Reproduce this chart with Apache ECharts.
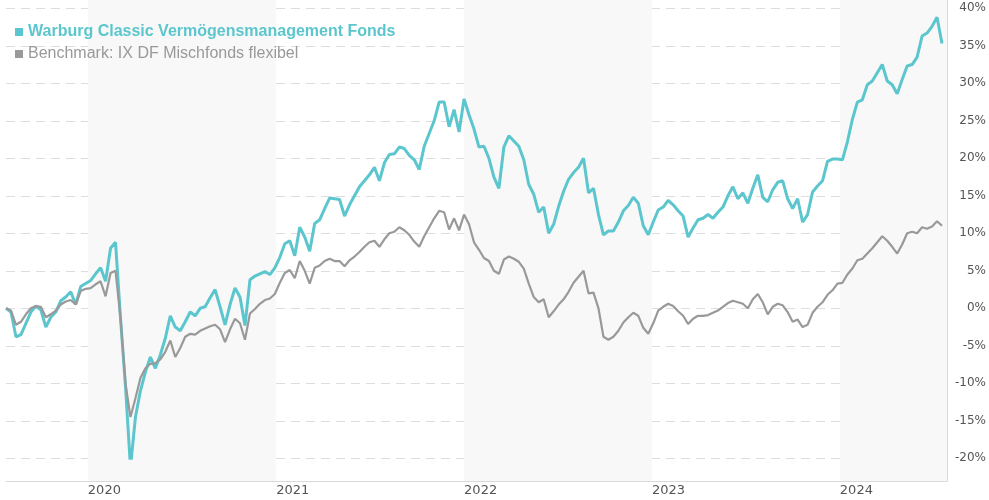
<!DOCTYPE html>
<html>
<head>
<meta charset="utf-8">
<script src="https://cdn.jsdelivr.net/npm/echarts@6/dist/echarts.min.js"></script>
<style>
  html, body { margin: 0; padding: 0; background: #fff; }
  #chart { width: 989px; height: 500px; }
</style>
</head>
<body>
<div id="chart"></div>
<script>
// Wertentwicklung Fonds vs. Benchmark, Werte in %
var seriesNames = ['Warburg Classic Vermögensmanagement Fonds', 'Benchmark: IX DF Mischfonds flexibel'];

var startDate = Date.UTC(2019, 6, 26);
var stepDays = 9.714;

var fondsValues = [
  0.0, -0.5, -3.8, -3.5, -2.0, -0.5, 0.3, -0.2, -2.5, -1.2,
  -0.5, 1.0, 1.5, 2.2, 0.5, 2.9, 3.3, 3.7, 4.6, 5.4,
  3.6, 8.0, 8.8, -1.3, -10.4, -21.2, -14.5, -11.0, -8.5, -6.5,
  -8.0, -6.2, -4.0, -1.0, -2.5, -3.0, -1.8, -0.5, -1.0, 0.0,
  0.2, 1.4, 2.5, 0.2, -2.2, 0.5, 2.7, 1.5, -2.3, 3.8,
  4.3, 4.6, 4.9, 4.5, 5.4, 6.8, 8.6, 9.0, 7.0, 10.8,
  9.5, 7.6, 11.3, 11.8, 13.3, 14.7, 14.6, 14.5, 12.3, 13.8,
  15.0, 16.2, 17.0, 17.8, 18.8, 17.0, 19.4, 20.5, 20.6, 21.5,
  21.3, 20.4, 19.8, 18.5, 21.6, 23.3, 25.0, 27.5, 27.5, 24.2,
  26.5, 23.5, 27.9, 25.8, 23.9, 21.5, 21.6, 20.0, 17.5, 16.0,
  21.5, 23.0, 22.3, 21.6, 19.8, 16.5, 15.2, 12.8, 13.5, 10.0,
  11.2, 13.6, 15.6, 17.2, 18.1, 18.8, 20.0, 15.4, 16.0, 12.5,
  9.8, 10.3, 10.3, 11.5, 13.0, 13.7, 14.8, 14.0, 11.0, 9.8,
  11.5, 13.1, 13.5, 14.4, 13.8, 13.0, 12.3, 9.5, 10.7, 11.8,
  12.0, 12.5, 12.0, 12.8, 13.5, 15.0, 16.2, 14.6, 15.4, 14.0,
  16.0, 17.8, 14.8, 14.2, 15.8, 16.8, 17.0, 14.6, 13.3, 14.6,
  11.5, 12.5, 15.5, 16.3, 17.0, 19.6, 19.9, 19.9, 19.8, 22.2,
  25.2, 27.5, 27.8, 29.8, 30.3, 31.4, 32.5, 30.3, 29.8, 28.6,
  30.5, 32.3, 32.5, 33.5, 36.3, 36.7, 37.6, 38.8, 35.3
];

var benchValues = [
  0.0, -0.3, -2.2, -1.8, -0.8, 0.0, 0.3, 0.2, -1.2, -0.8,
  -0.3, 0.5, 0.9, 1.1, 0.5, 2.3, 2.6, 2.7, 3.2, 3.6,
  1.6, 4.7, 5.0, -1.3, -10.0, -14.5, -12.0, -9.3, -8.0, -7.4,
  -7.3, -6.8, -5.8, -4.3, -6.5, -5.3, -3.8, -3.4, -3.5, -3.0,
  -2.7, -2.4, -2.2, -2.8, -4.5, -2.8, -1.4, -2.0, -4.2, -0.7,
  -0.1, 0.6, 1.1, 1.3, 1.9, 3.4, 4.7, 5.1, 4.0, 6.3,
  5.0, 3.3, 5.4, 5.7, 6.3, 6.6, 6.3, 6.3, 5.6, 6.4,
  6.9, 7.5, 8.2, 8.8, 9.0, 8.2, 9.2, 10.0, 10.2, 10.8,
  10.4, 9.8, 8.9, 8.2, 9.6, 10.8, 12.0, 13.0, 12.8, 10.5,
  12.0, 10.4, 12.5, 11.2, 8.8, 7.8, 6.7, 6.3, 5.0, 4.6,
  6.5, 6.9, 6.6, 6.2, 5.3, 3.3, 1.5, 0.8, 1.2, -1.2,
  -0.4, 0.5, 1.2, 2.2, 3.4, 4.2, 5.0, 2.0, 2.1, 0.0,
  -3.8, -4.2, -3.8, -3.0, -1.9, -1.2, -0.6, -1.0, -2.6, -3.4,
  -2.0, -0.3, 0.2, 0.6, 0.3, -0.4, -1.0, -2.1, -1.4, -1.0,
  -1.0, -0.9, -0.6, -0.3, 0.2, 0.7, 1.0, 0.8, 0.6, 0.0,
  1.2, 1.9, 0.8, -0.8, 0.2, 0.6, 0.4, -0.5, -1.8, -1.5,
  -2.5, -2.2, -0.6, 0.2, 0.8, 1.8, 2.4, 3.3, 3.4, 4.5,
  5.3, 6.4, 6.6, 7.3, 8.0, 8.8, 9.6, 9.0, 8.2, 7.3,
  8.5, 10.0, 10.2, 10.0, 10.8, 10.6, 10.9, 11.6, 11.0
];

var yearStarts = ['2020-01-01', '2021-01-01', '2022-01-01', '2023-01-01', '2024-01-01'];
var shadedYears = [['2020-01-01', '2021-01-01'], ['2022-01-01', '2023-01-01'], ['2024-01-01', '2025-01-01']];

var DAY = 86400000;
var xMin = startDate;
var xMax = startDate + 188.2 * stepDays * DAY;

function ts(d) { return new Date(d + 'T00:00:00Z').getTime(); }

function toPairs(values) {
  return values.map(function (v, i) {
    return [startDate + i * stepDays * DAY, v];
  });
}

var dom = document.getElementById('chart');
var myChart = echarts.init(dom);

var option = {
  animation: false,
  legend: {
    orient: 'vertical',
    left: 10,
    top: 19,
    itemWidth: 8,
    itemHeight: 8,
    itemGap: 6,
    icon: 'rect',
    selectedMode: false,
    textStyle: { fontFamily: 'Liberation Sans', fontSize: 16 },
    data: [
      { name: seriesNames[0], textStyle: { color: '#5bc6cd', fontWeight: 'bold' } },
      { name: seriesNames[1], textStyle: { color: '#999999' } }
    ]
  },
  grid: [
    { left: 6, right: 42, top: 8.3, height: 450 },
    { left: 6, right: 42, top: 0, bottom: 19 }
  ],
  xAxis: [
    {
      type: 'value', gridIndex: 0, min: xMin, max: xMax,
      show: false
    },
    {
      type: 'value', gridIndex: 1, min: xMin, max: xMax,
      axisLine: { show: true, lineStyle: { color: '#d9d9d9', width: 1 } },
      axisTick: { show: false },
      splitLine: { show: false },
      axisLabel: {
        customValues: yearStarts.map(ts),
        formatter: function (v) { return String(new Date(v).getUTCFullYear()); },
        align: 'left',
        margin: 3,
        color: '#555',
        fontFamily: 'DejaVu Sans',
        fontSize: 13
      }
    }
  ],
  yAxis: [
    {
      type: 'value', gridIndex: 0, position: 'right',
      min: -20, max: 40, interval: 5, z: 1,
      axisLine: { show: false },
      axisTick: { show: false },
      splitLine: { show: true, lineStyle: { color: '#dddddd', type: [9, 6], width: 1 } },
      axisLabel: {
        formatter: '{value}%',
        align: 'right',
        margin: 43,
        color: '#555',
        fontFamily: 'DejaVu Sans',
        fontSize: 12
      }
    },
    {
      type: 'value', gridIndex: 1, position: 'right', min: 0, max: 1,
      axisLine: { show: true, lineStyle: { color: '#d9d9d9', width: 1 } },
      axisTick: { show: false },
      axisLabel: { show: false },
      splitLine: { show: false }
    }
  ],
  series: [
    {
      name: seriesNames[0],
      type: 'line',
      xAxisIndex: 0, yAxisIndex: 0,
      showSymbol: false,
      color: '#5bc6cd',
      lineStyle: { width: 3, color: '#5bc6cd' },
      z: 3,
      data: toPairs(fondsValues)
    },
    {
      name: seriesNames[1],
      type: 'line',
      xAxisIndex: 0, yAxisIndex: 0,
      showSymbol: false,
      color: '#999999',
      lineStyle: { width: 2.2, color: '#999999' },
      z: 4,
      data: toPairs(benchValues)
    },
    {
      name: 'bands',
      type: 'line',
      xAxisIndex: 1, yAxisIndex: 1,
      z: 0,
      silent: true,
      showSymbol: false,
      lineStyle: { opacity: 0 },
      data: [[xMin, 0], [xMax, 0]],
      markArea: {
        silent: true,
        itemStyle: { color: '#f8f8f8' },
        data: shadedYears.map(function (p) {
          return [
            { xAxis: ts(p[0]) },
            { xAxis: Math.min(ts(p[1]), xMax) }
          ];
        })
      }
    }
  ]
};

if (option && typeof option === 'object') {
  myChart.setOption(option);
}
</script>
</body>
</html>
